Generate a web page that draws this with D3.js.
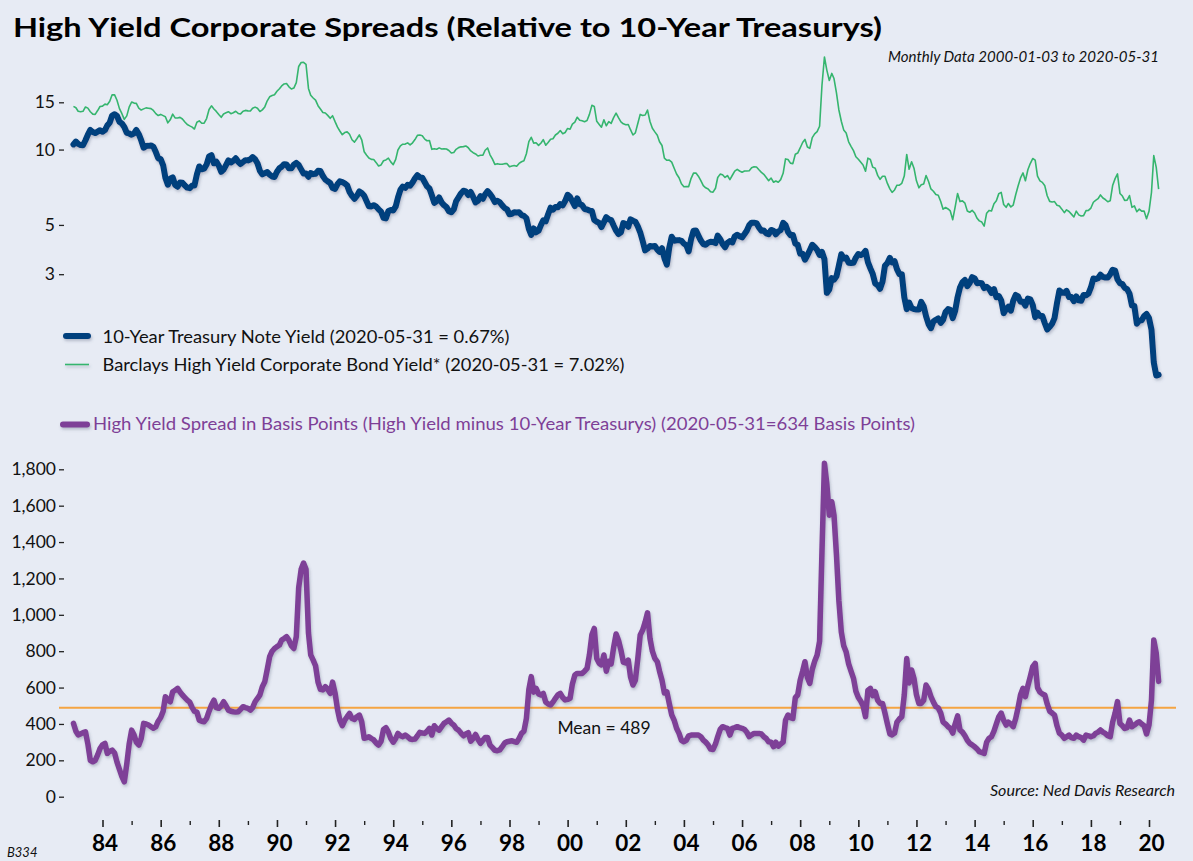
<!DOCTYPE html>
<html><head><meta charset="utf-8">
<script src="https://cdn.jsdelivr.net/npm/d3@7"></script>
<style>
html,body{margin:0;padding:0;background:#E7EBF4;}
svg{display:block;}
text{font-family:Lato,"Open Sans",sans-serif;}
</style></head><body>
<svg id="chart" width="1193" height="861"></svg>
<script>
// ---------- DATA (monthly, starting January 1983) ----------
const startYear = 1983;
const treasury = [
10.46,10.72,10.51,10.40,10.38,10.85,11.38,11.85,11.65,11.54,11.69,11.83,
11.67,11.84,12.32,12.63,13.41,13.56,13.36,12.72,12.52,12.16,11.57,11.50,
11.38,11.51,11.86,11.43,10.85,10.16,10.31,10.33,10.37,10.24,9.78,9.26,
9.19,8.70,7.78,7.30,7.71,7.80,7.30,7.17,7.45,7.43,7.25,7.11,
7.08,7.25,7.25,8.02,8.61,8.40,8.45,8.76,9.42,9.52,8.86,8.99,
8.67,8.21,8.37,8.72,9.09,8.92,9.06,9.26,8.98,8.80,8.96,9.11,
9.09,9.17,9.36,9.18,8.86,8.28,8.02,8.11,8.19,8.01,7.87,7.84,
8.21,8.47,8.59,8.79,8.76,8.48,8.47,8.75,8.89,8.72,8.39,8.08,
8.09,7.85,8.11,8.04,8.07,8.28,8.27,7.90,7.65,7.53,7.42,7.09,
7.03,7.34,7.54,7.48,7.39,7.26,6.84,6.59,6.42,6.59,6.87,6.77,
6.60,6.26,5.98,5.97,6.04,5.96,5.81,5.68,5.36,5.33,5.72,5.77,
5.75,5.97,6.48,6.97,7.18,7.10,7.30,7.24,7.46,7.74,7.96,7.81,
7.78,7.47,7.20,7.06,6.63,6.17,6.28,6.49,6.20,6.04,5.93,5.71,
5.65,5.81,6.27,6.51,6.74,6.91,6.87,6.64,6.83,6.53,6.20,6.30,
6.58,6.42,6.69,6.89,6.71,6.49,6.22,6.30,6.21,6.03,5.88,5.81,
5.54,5.57,5.65,5.64,5.65,5.50,5.46,5.34,4.81,4.53,4.83,4.65,
4.72,5.00,5.23,5.18,5.54,5.90,5.79,5.94,5.92,6.11,6.03,6.28,
6.66,6.52,6.26,5.99,6.44,6.10,6.05,5.83,5.80,5.74,5.72,5.24,
5.16,5.10,4.89,5.14,5.39,5.28,5.24,4.97,4.73,4.57,4.65,5.09,
5.04,4.91,5.28,5.21,5.16,4.93,4.65,4.26,3.87,3.94,4.05,4.03,
4.05,3.90,3.81,3.96,3.57,3.33,3.98,4.45,4.27,4.29,4.30,4.27,
4.15,4.08,3.83,4.35,4.72,4.73,4.50,4.28,4.13,4.10,4.19,4.23,
4.22,4.17,4.50,4.34,4.14,4.00,4.18,4.26,4.20,4.46,4.54,4.47,
4.42,4.57,4.72,4.99,5.11,5.11,5.09,4.88,4.72,4.73,4.60,4.56,
4.76,4.72,4.56,4.69,4.75,5.10,5.00,4.67,4.52,4.53,4.15,4.10,
3.74,3.74,3.51,3.68,3.88,4.10,4.01,3.89,3.69,3.81,3.53,2.42,
2.52,2.87,2.82,2.93,3.29,3.72,3.56,3.59,3.40,3.39,3.40,3.59,
3.73,3.69,3.73,3.85,3.42,3.20,3.01,2.70,2.65,2.54,2.76,3.29,
3.39,3.58,3.41,3.46,3.17,3.00,3.00,2.30,1.98,2.15,2.01,1.98,
1.97,1.97,2.17,2.05,1.80,1.62,1.53,1.68,1.72,1.75,1.65,1.72,
1.91,1.98,1.96,1.76,1.93,2.30,2.58,2.74,2.81,2.62,2.72,2.90,
2.86,2.71,2.72,2.71,2.56,2.60,2.54,2.42,2.53,2.30,2.33,2.21,
1.88,1.98,2.04,1.94,2.20,2.36,2.32,2.17,2.17,2.07,2.26,2.24,
2.09,1.78,1.89,1.81,1.81,1.64,1.50,1.56,1.63,1.76,2.14,2.49,
2.43,2.42,2.48,2.30,2.30,2.19,2.32,2.21,2.20,2.36,2.35,2.40,
2.58,2.86,2.84,2.87,2.98,2.91,2.89,2.89,3.00,3.15,3.12,2.83,
2.71,2.68,2.57,2.53,2.40,2.07,2.06,1.63,1.70,1.71,1.81,1.86,
1.76,1.50,0.87,0.66,0.67];

const highYield = [
14.49,14.32,13.91,13.85,13.90,14.42,14.28,13.85,13.57,13.54,13.99,14.48,
14.52,14.77,14.70,15.13,15.97,15.96,15.26,14.22,13.62,12.98,13.37,14.40,
15.04,14.90,14.86,14.27,14.05,14.19,14.31,14.27,14.22,14.00,13.63,13.41,
13.54,13.40,13.28,12.60,12.93,13.57,13.15,13.13,13.20,13.02,12.70,12.42,
12.28,12.15,11.95,12.67,12.82,12.55,12.57,13.07,14.12,14.56,14.17,13.89,
13.53,13.21,13.59,13.72,13.85,13.62,13.73,13.91,13.65,13.60,13.91,14.01,
13.95,13.93,14.26,14.40,14.26,13.88,14.07,14.43,15.19,15.71,15.87,15.99,
16.46,16.81,17.20,17.49,17.56,17.08,16.77,16.90,17.69,20.22,20.89,20.93,
20.59,16.85,15.91,15.55,15.27,14.58,14.17,13.77,13.70,13.43,13.10,13.39,
12.73,12.14,11.75,11.38,11.59,11.66,11.42,10.89,10.67,10.99,11.36,10.89,
9.81,9.51,9.28,9.17,9.16,8.91,8.65,8.73,9.06,9.13,9.27,8.97,
8.75,9.17,9.96,10.32,10.48,10.49,10.60,10.41,10.61,10.91,11.31,11.35,
11.28,10.95,10.80,10.82,10.02,10.07,10.03,10.15,10.05,10.07,10.05,9.92,
9.70,9.75,10.02,10.17,10.24,10.26,10.32,10.16,9.88,9.73,9.62,9.45,
9.51,9.52,9.94,10.14,9.55,9.19,8.77,8.83,8.78,8.78,8.83,8.83,
8.59,8.65,8.68,8.63,8.85,8.98,9.06,9.64,10.71,11.13,10.58,10.61,
10.37,10.59,10.91,10.38,10.64,10.94,10.99,11.35,11.52,11.79,11.48,11.60,
12.01,11.93,12.46,12.68,13.22,12.88,12.83,12.73,12.85,13.54,14.62,14.49,
12.76,12.43,12.14,12.93,12.29,12.73,12.54,13.17,13.68,13.17,12.71,12.49,
12.39,12.42,11.88,11.35,11.56,12.53,13.54,13.42,13.47,14.05,12.75,12.03,
11.66,11.32,10.71,10.36,9.27,9.10,9.11,8.95,8.47,8.05,7.78,7.37,
7.17,7.19,7.18,7.74,8.11,8.12,7.89,7.58,7.24,7.10,7.03,6.85,
6.82,7.07,7.80,8.04,7.99,7.80,7.94,7.65,7.96,8.26,8.39,8.27,
8.18,8.27,8.27,8.29,8.51,8.59,8.57,8.36,8.17,8.03,7.80,7.58,
7.76,7.47,7.56,7.47,7.65,8.10,9.21,9.16,8.87,8.83,9.60,9.70,
10.14,10.64,10.93,10.23,10.11,11.10,11.46,11.68,12.24,17.31,21.86,19.62,
18.00,19.09,18.30,16.23,14.09,12.77,11.86,11.54,10.70,10.29,9.91,9.39,
9.18,8.94,8.73,8.25,9.27,9.16,8.56,8.47,7.95,7.67,7.89,7.89,
7.39,7.03,6.81,6.96,7.27,7.28,7.40,7.90,9.58,8.40,8.98,8.48,
7.57,7.10,7.30,7.35,7.94,7.52,7.03,6.88,6.67,6.63,6.25,5.82,
5.91,5.83,5.72,5.26,5.93,6.74,6.25,6.29,6.16,5.72,5.65,5.75,
5.61,5.33,5.20,5.14,4.94,5.60,5.75,5.72,6.13,6.30,6.73,6.81,
6.08,5.92,6.14,5.94,6.05,6.66,7.22,7.77,8.13,7.57,8.36,8.84,
9.24,9.11,7.89,7.56,7.46,7.23,6.60,6.26,6.23,6.25,6.04,5.99,
5.82,5.63,5.78,5.69,5.55,5.40,5.71,5.51,5.45,5.47,5.74,5.75,
5.88,6.21,6.32,6.42,6.65,6.46,6.37,6.24,6.30,7.25,7.72,8.06,
6.74,6.58,6.32,6.33,6.61,5.92,6.00,5.68,5.82,5.71,5.71,5.31,
5.70,6.80,9.48,8.54,7.02];

const spreadBp = [
403,360,340,345,352,357,290,200,192,200,230,265,
285,293,238,250,256,240,190,150,110,82,180,290,
366,339,300,284,320,403,400,394,385,376,385,415,
435,470,550,530,522,577,585,596,575,559,545,531,
520,490,470,465,421,415,412,431,470,504,531,490,
486,500,522,500,476,470,467,465,467,480,495,490,
486,476,490,522,540,560,605,632,700,770,800,815,
825,834,861,870,880,860,830,815,880,1150,1250,1285,
1250,900,780,751,720,630,590,587,605,590,568,630,
570,480,421,390,420,440,458,430,425,440,449,412,
321,325,330,320,312,295,284,305,370,380,355,320,
300,320,348,335,330,339,330,317,315,317,335,354,
350,348,360,376,339,390,375,366,385,403,412,421,
405,394,375,366,350,335,345,352,305,320,342,315,
293,310,325,325,284,270,255,253,257,275,295,302,
305,308,303,299,320,348,360,430,590,660,575,596,
565,559,568,520,510,504,520,541,560,568,545,532,
535,541,620,669,678,678,678,690,705,780,890,925,
760,733,725,779,690,745,730,820,895,860,806,740,
735,751,660,614,640,760,889,916,960,1011,870,800,
761,742,690,640,570,577,513,450,420,376,348,310,
302,311,335,339,339,339,339,330,311,300,284,262,
260,290,330,370,385,380,376,339,376,380,385,380,
376,370,355,330,340,348,348,348,345,330,320,302,
300,275,300,278,290,300,421,449,435,430,545,560,
640,690,742,655,623,700,745,779,855,1350,1833,1720,
1548,1622,1548,1330,1080,905,830,795,730,690,651,580,
545,525,500,440,585,596,555,577,530,513,513,460,
400,345,340,350,410,428,440,560,760,625,697,650,
560,513,513,530,614,590,550,520,495,488,460,410,
400,385,376,350,400,444,367,355,335,310,293,285,
275,262,248,243,238,300,321,330,360,400,440,460,
420,394,410,400,385,430,490,560,596,550,610,660,
715,733,600,575,565,559,510,470,460,449,390,350,
339,321,330,339,325,321,339,330,325,311,339,335,
330,335,348,355,367,355,348,335,330,410,460,523,
403,390,375,380,421,385,394,405,412,400,390,345,
394,530,861,788,634];

const meanSpread = 489;
const topTicks = [3, 5, 10, 15];
const bottomTicks = [0, 200, 400, 600, 800, 1000, 1200, 1400, 1600, 1800];
const majorYears = [1984,1986,1988,1990,1992,1994,1996,1998,2000,2002,2004,2006,2008,2010,2012,2014,2016,2018,2020];
const minorYears = [1985,1987,1989,1991,1993,1995,1997,1999,2001,2003,2005,2007,2009,2011,2013,2015,2017,2019];

const titleText = "High Yield Corporate Spreads (Relative to 10-Year Treasurys)";
const subtitleText = "Monthly Data 2000-01-03 to 2020-05-31";
const legendTreasury = "10-Year Treasury Note Yield (2020-05-31 = 0.67%)";
const legendHY = "Barclays High Yield Corporate Bond Yield* (2020-05-31 = 7.02%)";
const legendSpread = "High Yield Spread in Basis Points (High Yield minus 10-Year Treasurys) (2020-05-31=634 Basis Points)";
const meanText = "Mean = 489";
const sourceText = "Source: Ned Davis Research";
const codeText = "B334";

// ---------- COLOURS ----------
const C = {bg:"#E7EBF4", blue:"#003F7D", green:"#35B56E", purple:"#7E3F97", orange:"#F5A442", ink:"#111"};

const svg = d3.select("#chart");
svg.append("rect").attr("width",1193).attr("height",861).attr("fill",C.bg);

const defs = svg.append("defs");
const f = defs.append("filter").attr("id","sh").attr("filterUnits","userSpaceOnUse")
  .attr("x",0).attr("y",0).attr("width",1193).attr("height",861);
f.append("feDropShadow").attr("dx",1).attr("dy",2).attr("stdDeviation",1.6).attr("flood-color","#56607a").attr("flood-opacity",0.35);

const dates = treasury.map((d,i)=> new Date(startYear, i, 1));

const x = d3.scaleTime()
  .domain([new Date(1984,0,1), new Date(2020,0,1)])
  .range([102.5, 1149]);

const yTop = d3.scaleSymlog().constant(1.3).domain([0, 15]).range([428.5, 102.3]);
const yBot = d3.scaleLinear().domain([0, 1800]).range([796.7, 469.3]);

// ---------- TITLE ----------
svg.append("text").attr("x",13).attr("y",36.5)
  .attr("font-size",26.5).attr("font-weight",700).attr("fill","#000")
  .attr("textLength",869).attr("lengthAdjust","spacingAndGlyphs")
  .text(titleText);
svg.append("text").attr("x",1159).attr("y",62).attr("text-anchor","end")
  .attr("font-size",15).attr("font-style","italic").attr("fill",C.ink)
  .attr("textLength",271).attr("lengthAdjust","spacingAndGlyphs")
  .text(subtitleText);

// ---------- TOP PANEL ----------
const gTopAxis = svg.append("g").attr("transform","translate(64,0)")
  .call(d3.axisLeft(yTop).tickValues(topTicks).tickSize(5).tickPadding(4).tickFormat(d3.format("d")));
gTopAxis.select(".domain").remove();
gTopAxis.selectAll("line").attr("stroke","#222").attr("stroke-width",1.3);
gTopAxis.selectAll("text").attr("font-size",17.5).attr("fill",C.ink).attr("font-family","Lato,sans-serif");

const lineTop = d3.line().x((d,i)=>x(dates[i])).y(d=>yTop(d));

svg.append("path").datum(highYield).attr("d",lineTop)
  .attr("fill","none").attr("stroke",C.green).attr("stroke-width",1.6).attr("stroke-linejoin","round");
svg.append("path").datum(treasury).attr("d",lineTop)
  .attr("fill","none").attr("stroke",C.blue).attr("stroke-width",6)
  .attr("stroke-linejoin","round").attr("stroke-linecap","round").attr("filter","url(#sh)");

// legend top
svg.append("line").attr("x1",66).attr("x2",88).attr("y1",336).attr("y2",336)
  .attr("stroke",C.blue).attr("stroke-width",6).attr("stroke-linecap","round").attr("filter","url(#sh)");
svg.append("text").attr("x",102.5).attr("y",343).attr("font-size",17).attr("fill",C.ink)
  .attr("textLength",407).attr("lengthAdjust","spacingAndGlyphs").text(legendTreasury);
svg.append("line").attr("x1",65).attr("x2",89).attr("y1",364.5).attr("y2",364.5)
  .attr("stroke",C.green).attr("stroke-width",1.6).attr("filter","url(#sh)");
svg.append("text").attr("x",102.5).attr("y",371).attr("font-size",17).attr("fill",C.ink)
  .attr("textLength",522).attr("lengthAdjust","spacingAndGlyphs").text(legendHY);

// ---------- BOTTOM PANEL ----------
svg.append("line").attr("x1",63).attr("x2",87).attr("y1",424.5).attr("y2",424.5)
  .attr("stroke",C.purple).attr("stroke-width",6).attr("stroke-linecap","round").attr("filter","url(#sh)");
svg.append("text").attr("x",93).attr("y",430).attr("font-size",17).attr("fill",C.purple)
  .attr("textLength",822).attr("lengthAdjust","spacingAndGlyphs").text(legendSpread);

const gBotAxis = svg.append("g").attr("transform","translate(64,0)")
  .call(d3.axisLeft(yBot).tickValues(bottomTicks).tickSize(5).tickPadding(3).tickFormat(d3.format(",")));
gBotAxis.select(".domain").remove();
gBotAxis.selectAll("line").attr("stroke","#222").attr("stroke-width",1.3);
gBotAxis.selectAll("text").attr("font-size",17.5).attr("fill",C.ink).attr("font-family","Lato,sans-serif");

// mean line
svg.append("line").attr("x1",59).attr("x2",1176)
  .attr("y1",yBot(meanSpread)).attr("y2",yBot(meanSpread))
  .attr("stroke",C.orange).attr("stroke-width",2);

const lineBot = d3.line().x((d,i)=>x(dates[i])).y(d=>yBot(d));
svg.append("path").datum(spreadBp).attr("d",lineBot)
  .attr("fill","none").attr("stroke",C.purple).attr("stroke-width",5.5)
  .attr("stroke-linejoin","round").attr("stroke-linecap","round").attr("filter","url(#sh)");

svg.append("text").attr("x",604).attr("y",734).attr("text-anchor","middle")
  .attr("font-size",17.5).attr("fill",C.ink).text(meanText);

svg.append("text").attr("x",1175).attr("y",796).attr("text-anchor","end")
  .attr("font-size",15).attr("font-style","italic").attr("fill",C.ink)
  .attr("textLength",185).attr("lengthAdjust","spacingAndGlyphs").text(sourceText);

// ---------- X AXIS ----------
const gMajor = svg.append("g").attr("transform","translate(0,820)")
  .call(d3.axisBottom(x).tickValues(majorYears.map(y=>new Date(y,0,1))).tickSize(7).tickPadding(8.5)
    .tickFormat(d=>d3.timeFormat("%y")(d)));
gMajor.select(".domain").remove();
gMajor.selectAll("line").attr("stroke","#222").attr("stroke-width",1.6);
gMajor.selectAll("text").attr("font-size",22.5).attr("font-weight",700).attr("fill","#000")
  .attr("font-family","Lato,sans-serif").attr("dx",2);

const gMinor = svg.append("g").attr("transform","translate(0,821)")
  .call(d3.axisBottom(x).tickValues(minorYears.map(y=>new Date(y,0,1))).tickSize(4).tickFormat(""));
gMinor.select(".domain").remove();
gMinor.selectAll("line").attr("stroke","#222").attr("stroke-width",1.4);

svg.append("text").attr("x",7).attr("y",857).attr("font-size",13).attr("font-style","italic")
  .attr("fill",C.ink).text(codeText);
</script>
</body></html>
